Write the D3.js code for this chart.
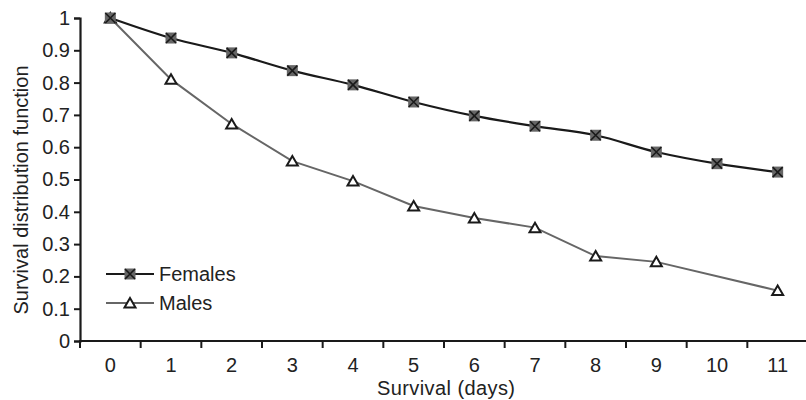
<!DOCTYPE html>
<html>
<head>
<meta charset="utf-8">
<script src="https://cdn.jsdelivr.net/npm/d3@7"></script>
<style>
  body { margin: 0; background: #fff; }
  svg text { font-family: "Liberation Sans", Arial, sans-serif; fill: #222; }
</style>
</head>
<body>
<div id="chart"></div>
<script>
// survival days and the two series (males have no point on day 10)
var days = [0, 1, 2, 3, 4, 5, 6, 7, 8, 9, 10, 11];
var females = [1, 0.938, 0.892, 0.837, 0.793, 0.74, 0.697, 0.665, 0.637, 0.585, 0.549, 0.523];
var males = [1, 0.81, 0.672, 0.557, 0.495, 0.418, 0.381, 0.351, 0.263, 0.245, null, 0.156];
var yTicks = [0, 0.1, 0.2, 0.3, 0.4, 0.5, 0.6, 0.7, 0.8, 0.9, 1];

var width = 806, height = 400;

var svg = d3.select("#chart").append("svg")
    .attr("width", width)
    .attr("height", height);

var xScale = d3.scaleBand()
    .domain(days)
    .range([80, 808]);

var yScale = d3.scaleLinear()
    .domain([0, 1])
    .range([341, 18]);

var cx = d => xScale(d) + xScale.bandwidth() / 2;

/* axes */
var axisColor = "#1a1a1a";

var yAxis = svg.append("g")
    .attr("transform", "translate(80,0)")
    .call(d3.axisLeft(yScale).tickValues(yTicks).tickSize(6).tickPadding(4)
        .tickFormat(d => d === 0 || d === 1 ? d3.format("d")(d) : d3.format(".1f")(d)));
yAxis.select(".domain").attr("stroke", axisColor).attr("stroke-width", 2.2);
yAxis.selectAll(".tick line").attr("stroke", axisColor).attr("stroke-width", 2);
yAxis.selectAll("text").style("font-size", "20px").attr("fill", "#222");

var xAxis = svg.append("g")
    .attr("transform", "translate(0,341)");
xAxis.append("line")
    .attr("x1", 79).attr("x2", 808)
    .attr("stroke", axisColor).attr("stroke-width", 2.2);
xAxis.selectAll(".xtick")
    .data(days)
    .join("line")
    .attr("class", "xtick")
    .attr("x1", d => xScale(d))
    .attr("x2", d => xScale(d))
    .attr("y1", 0).attr("y2", 7)
    .attr("stroke", axisColor).attr("stroke-width", 2);
xAxis.selectAll(".xlabel")
    .data(days)
    .join("text")
    .attr("class", "xlabel")
    .attr("x", d => cx(d))
    .attr("y", 31)
    .attr("text-anchor", "middle")
    .style("font-size", "20px")
    .text(d => d);

svg.append("text")
    .attr("x", 446)
    .attr("y", 395)
    .attr("text-anchor", "middle")
    .style("font-size", "20px")
    .attr("textLength", 138)
    .text("Survival (days)");

svg.append("text")
    .attr("transform", "translate(28,190) rotate(-90)")
    .attr("text-anchor", "middle")
    .style("font-size", "20px")
    .text("Survival distribution function");

/* lines */
var femaleLine = d3.line()
    .x((d, i) => cx(days[i]))
    .y(d => yScale(d))
    .curve(d3.curveCardinal.tension(0));

var maleData = males.map((v, i) => ({ day: days[i], v: v })).filter(d => d.v !== null);

svg.append("path")
    .datum(maleData)
    .attr("fill", "none")
    .attr("stroke", "#666")
    .attr("stroke-width", 2)
    .attr("d", d3.line().x(d => cx(d.day)).y(d => yScale(d.v)));

svg.append("path")
    .datum(females)
    .attr("fill", "none")
    .attr("stroke", "#1a1a1a")
    .attr("stroke-width", 2.2)
    .attr("d", femaleLine);

/* markers */
function femaleMarker(g) {
    g.append("rect")
        .attr("x", -5.5).attr("y", -5.5)
        .attr("width", 11).attr("height", 11)
        .attr("fill", "#666");
    g.append("path")
        .attr("d", "M-5,-5L5,5M-5,5L5,-5")
        .attr("stroke", "#1a1a1a")
        .attr("stroke-width", 1.6);
}
function maleMarker(g) {
    g.append("path")
        .attr("d", "M0,-5L5.5,4.5L-5.5,4.5Z")
        .attr("fill", "#fff")
        .attr("stroke", "#1a1a1a")
        .attr("stroke-width", 2);
}

svg.selectAll(".mmark")
    .data(maleData)
    .join("g")
    .attr("class", "mmark")
    .attr("transform", d => `translate(${cx(d.day)},${yScale(d.v)})`)
    .each(function () { maleMarker(d3.select(this)); });

svg.selectAll(".fmark")
    .data(females)
    .join("g")
    .attr("class", "fmark")
    .attr("transform", (d, i) => `translate(${cx(days[i])},${yScale(d)})`)
    .each(function () { femaleMarker(d3.select(this)); });

/* legend */
var legend = [
    { name: "Females", y: 274, color: "#1a1a1a", marker: femaleMarker },
    { name: "Males", y: 303, color: "#666", marker: maleMarker }
];
legend.forEach(function (l) {
    var g = svg.append("g").attr("transform", `translate(0,${l.y})`);
    g.append("line")
        .attr("x1", 106).attr("x2", 154)
        .attr("stroke", l.color).attr("stroke-width", 2);
    l.marker(g.append("g").attr("transform", "translate(130,0)"));
    g.append("text")
        .attr("x", 159).attr("y", 7)
        .style("font-size", "20px")
        .text(l.name);
});
</script>
</body>
</html>
